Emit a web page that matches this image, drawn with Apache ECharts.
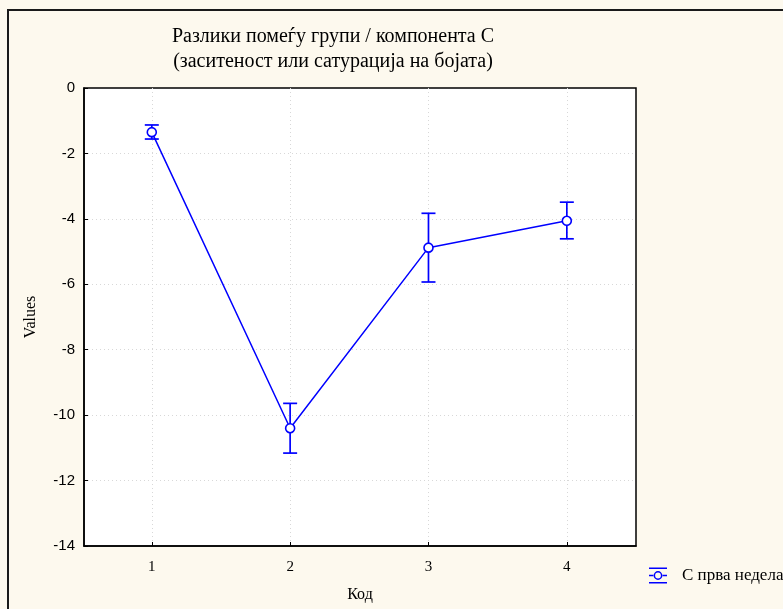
<!DOCTYPE html>
<html>
<head>
<meta charset="utf-8">
<script src="https://cdn.jsdelivr.net/npm/echarts@6/dist/echarts.min.js"></script>
<style>html,body{margin:0;padding:0;background:#fdf9ee;}#c{width:783px;height:609px;}</style>
</head>
<body>
<div id="c"></div>
<script>
const categories = [1, 2, 3, 4];
const means = [-1.35, -10.40, -4.88, -4.06];
const errLow = [-1.56, -11.16, -5.93, -4.61];
const errHigh = [-1.13, -9.64, -3.83, -3.49];
const yTicks = [0, -2, -4, -6, -8, -10, -12, -14];
const seriesName = 'С прва недела';

const blue = '#0000ff';
const chart = echarts.init(document.getElementById('c'));
const lineData = categories.map((c, i) => [c, means[i]]);
const errData = categories.map((c, i) => [c, errLow[i], errHigh[i]]);

chart.setOption({
  backgroundColor: '#fdf9ee',
  animation: false,
  title: {
    text: 'Разлики помеѓу групи / компонента С\n(заситеност или сатурација на бојата)',
    left: 328, top: 19, textAlign: 'center',
    textStyle: { fontFamily: 'Liberation Serif', fontSize: 20, fontWeight: 'normal', color: '#000', lineHeight: 25 }
  },
  legend: {
    left: 649, top: 567, orient: 'vertical', padding: 0,
    itemWidth: 18, itemHeight: 16,
    data: [{
      name: seriesName,
      icon: 'path://M0,0H18V1.6H0Z M0,14.4H18V16H0Z M0,7.2H5V8.8H0Z M13,7.2H18V8.8H13Z M13.4,8A4.4,4.4 0 1,0 4.6,8A4.4,4.4 0 1,0 13.4,8Z M11.9,8A2.9,2.9 0 1,1 6.1,8A2.9,2.9 0 1,1 11.9,8Z'
    }],
    itemStyle: { color: blue, borderWidth: 0 },
    textStyle: { fontFamily: 'Liberation Serif', fontSize: 17, color: '#000', padding: [4, 0, 0, 10] }
  },
  grid: { left: 84, right: 147, top: 88, bottom: 63, show: true, backgroundColor: '#fff', borderColor: '#000', borderWidth: 1.5 },
  xAxis: {
    type: 'value', min: 0.51, max: 4.5, splitNumber: 4,
    name: 'Код', nameLocation: 'middle', nameGap: 41,
    nameTextStyle: { fontFamily: 'Liberation Serif', fontSize: 16, color: '#000' },
    axisLine: { onZero: false, lineStyle: { color: '#000', width: 1.5 } },
    axisTick: { show: true, inside: true, length: 4, lineStyle: { color: '#000' } },
    axisLabel: { fontFamily: 'Liberation Serif', fontSize: 15, color: '#000', margin: 14,
      showMinLabel: false, showMaxLabel: false,
      formatter: v => categories.includes(v) ? String(v) : '' },
    splitLine: { show: true, showMinLine: false, showMaxLine: false, lineStyle: { color: '#d8d8d8', type: [1, 3], width: 1 } }
  },
  yAxis: {
    type: 'value', min: -14, max: 0, interval: 2,
    name: 'Values', nameLocation: 'middle', nameGap: 45, nameRotate: 90,
    nameTextStyle: { fontFamily: 'Liberation Serif', fontSize: 16, color: '#000' },
    axisLine: { show: true, onZero: false, lineStyle: { color: '#000', width: 1.5 } },
    axisTick: { show: true, inside: true, length: 4, lineStyle: { color: '#000' } },
    axisLabel: { fontFamily: 'Liberation Sans', fontSize: 15, color: '#000', margin: 9,
      formatter: v => yTicks.includes(v) ? String(v) : '' },
    splitLine: { show: true, showMinLine: false, showMaxLine: false, lineStyle: { color: '#d8d8d8', type: [1, 3], width: 1 } }
  },
  graphic: [{
    type: 'rect', shape: { x: 8, y: 10, width: 820, height: 640 },
    style: { fill: 'none', stroke: '#1a1a1a', lineWidth: 2 }, z: 100, silent: true
  }],
  series: [
    {
      name: seriesName, type: 'line', data: lineData,
      symbol: 'circle', symbolSize: 9,
      lineStyle: { color: blue, width: 1.5 },
      itemStyle: { color: '#fff', borderColor: blue, borderWidth: 1.6 },
      z: 3
    },
    {
      name: 'err', type: 'custom', data: errData, z: 2,
      renderItem: function (params, api) {
        const x = api.value(0);
        const lo = api.coord([x, api.value(1)]);
        const hi = api.coord([x, api.value(2)]);
        const w = 7;
        const st = { stroke: blue, lineWidth: 1.7 };
        return { type: 'group', children: [
          { type: 'line', shape: { x1: lo[0], y1: lo[1], x2: hi[0], y2: hi[1] }, style: st },
          { type: 'line', shape: { x1: lo[0] - w, y1: lo[1], x2: lo[0] + w, y2: lo[1] }, style: st },
          { type: 'line', shape: { x1: hi[0] - w, y1: hi[1], x2: hi[0] + w, y2: hi[1] }, style: st }
        ]};
      }
    }
  ]
});
</script>
</body>
</html>
